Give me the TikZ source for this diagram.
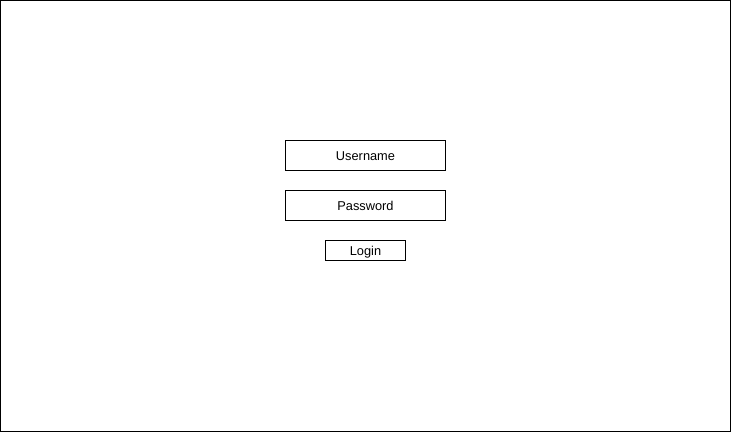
\documentclass[tikz,border=0pt]{standalone}
\usepackage{fontspec}
\setmainfont{Liberation Sans}
\begin{document}
\begin{tikzpicture}[x=1pt, y=-1pt,
    field/.style={draw, minimum width=160pt, minimum height=30pt, font=\fontsize{12.8}{15}\selectfont, inner sep=0pt, text height=10.5pt, text depth=0pt},
    button/.style={draw, minimum width=80pt, minimum height=20pt, font=\fontsize{12.8}{15}\selectfont, inner sep=0pt, text height=10.5pt, text depth=0pt}]
            \useasboundingbox (0, 0) rectangle (731, 432);
            \draw (0.5, 0.5) rectangle (730.5, 431.5);
            \node[field] (username) at (365.5, 155.5) {Username};
            \node[field] (password) at (365.5, 205.5) {Password};
            \node[button] (login) at (365.5, 250.5) {Login};
        \end{tikzpicture}
\end{document}
